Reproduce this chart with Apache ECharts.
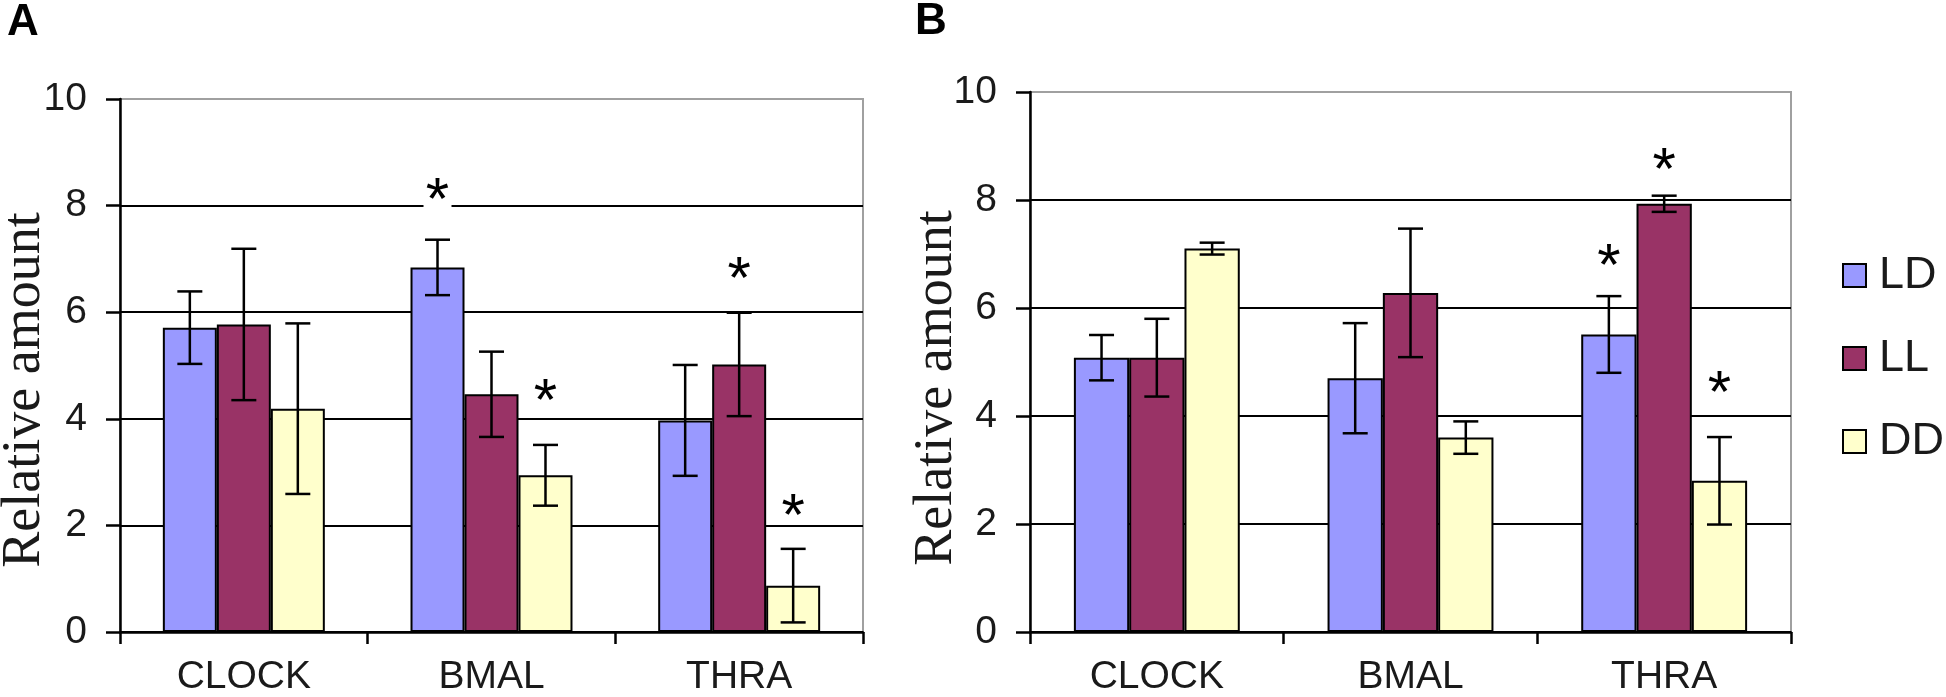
<!DOCTYPE html>
<html><head><meta charset="utf-8">
<script src="https://cdn.jsdelivr.net/npm/echarts@6/dist/echarts.min.js"></script>
<style>html,body{margin:0;padding:0;background:#fff}#c{width:1946px;height:697px}</style>
</head><body><div id="c"></div>
<script>
const categories = ['CLOCK', 'BMAL', 'THRA'];
const seriesNames = ['LD', 'LL', 'DD'];
const yTicks = [0, 2, 4, 6, 8, 10];

// Panel A
const aLD = [5.71, 6.84, 3.97];
const aLL = [5.77, 4.46, 5.02];
const aDD = [4.19, 2.94, 0.87];
const aErrLD = [0.68, 0.52, 1.04];
const aErrLL = [1.42, 0.80, 0.97];
const aErrDD = [1.60, 0.57, 0.69];
// [category index, series index, value]
const aStars = [[1, 0, 8.28], [1, 2, 4.51], [2, 1, 6.80], [2, 2, 2.36]];

// Panel B
const bLD = [5.08, 4.70, 5.51];
const bLL = [5.08, 6.28, 7.93];
const bDD = [7.10, 3.60, 2.80];
const bErrLD = [0.42, 1.02, 0.71];
const bErrLL = [0.72, 1.19, 0.15];
const bErrDD = [0.11, 0.30, 0.81];
const bStars = [[2, 0, 6.96], [2, 1, 8.74], [2, 2, 4.60]];

const colors = ['#9999FF', '#993366', '#FFFFCC'];
const BAR_FRAC = 0.218;
const SANS = '"Liberation Sans", Arial, sans-serif';
const SERIF = '"Liberation Serif", "Times New Roman", serif';
const TXT = '#1a1a1a';

function xAxisFor(gi) {
  return {
    type: 'category', gridIndex: gi, data: categories,
    axisLine: {show: true, lineStyle: {color: '#000', width: 2.5}},
    axisTick: {show: true, length: 12, lineStyle: {color: '#000', width: 2.5}},
    axisLabel: {margin: 26, fontSize: 39, fontFamily: SANS, color: TXT},
    splitLine: {show: false}
  };
}
function yAxisFor(gi) {
  return {
    type: 'value', gridIndex: gi,
    min: yTicks[0], max: yTicks[yTicks.length - 1], interval: yTicks[1] - yTicks[0],
    axisLine: {show: true, lineStyle: {color: '#000', width: 2.5}},
    axisTick: {show: true, length: 14, lineStyle: {color: '#000', width: 2.5}},
    axisLabel: {margin: 33, fontSize: 39, fontFamily: SANS, color: TXT},
    splitLine: {show: true, showMaxLine: false, lineStyle: {color: '#000', width: 2}}
  };
}
function barSeries(gi, name, vals, color) {
  return {
    type: 'bar', name: name, xAxisIndex: gi, yAxisIndex: gi, data: vals,
    barWidth: (BAR_FRAC * 100) + '%', barGap: '0%',
    itemStyle: {color: color, borderColor: '#000', borderWidth: 2},
    emphasis: {disabled: true}, z: 2
  };
}
function errSeries(gi, means, errs) {
  const data = [];
  means.forEach((m, s) => m.forEach((v, c) => data.push([c, s, v, errs[s][c]])));
  return {
    type: 'custom', xAxisIndex: gi, yAxisIndex: gi, data: data, z: 5,
    encode: {x: 0, y: 2}, silent: true,
    renderItem: function (params, api) {
      const c = api.value(0), s = api.value(1), m = api.value(2), e = api.value(3);
      const band = api.size([1, 0])[0];
      const bw = band * BAR_FRAC;
      const x = api.coord([c, m])[0] + (s - 1) * bw;
      const yt = api.coord([c, m + e])[1];
      const yb = api.coord([c, m - e])[1];
      const hw = 12.5;
      const st = {stroke: '#000', lineWidth: 2.5};
      return {type: 'group', children: [
        {type: 'line', shape: {x1: x, y1: yt, x2: x, y2: yb}, style: st},
        {type: 'line', shape: {x1: x - hw, y1: yt, x2: x + hw, y2: yt}, style: st},
        {type: 'line', shape: {x1: x - hw, y1: yb, x2: x + hw, y2: yb}, style: st}
      ]};
    }
  };
}
function starSeries(gi, stars) {
  return {
    type: 'custom', xAxisIndex: gi, yAxisIndex: gi, data: stars, z: 6,
    encode: {x: 0, y: 2}, silent: true,
    renderItem: function (params, api) {
      const c = api.value(0), s = api.value(1), v = api.value(2);
      const band = api.size([1, 0])[0];
      const bw = band * BAR_FRAC;
      const p = api.coord([c, v]);
      const x = p[0] + (s - 1) * bw;
      const y = p[1];
      return {type: 'group', children: [
        {type: 'rect', shape: {x: x - 14, y: y - 10, width: 28, height: 27}, style: {fill: '#fff'}},
        {type: 'text', x: x, y: y + 12, style: {text: '*', font: '60px ' + SANS, fill: '#000', align: 'center', verticalAlign: 'middle'}}
      ]};
    }
  };
}

const option = {
  backgroundColor: '#fff',
  animation: false,
  grid: [
    {left: 120, top: 99, width: 743, height: 534, show: true, borderColor: '#a0a0a0', borderWidth: 2, backgroundColor: 'transparent'},
    {left: 1030, top: 92, width: 761, height: 541, show: true, borderColor: '#a0a0a0', borderWidth: 2, backgroundColor: 'transparent'}
  ],
  xAxis: [xAxisFor(0), xAxisFor(1)],
  yAxis: [yAxisFor(0), yAxisFor(1)],
  legend: {
    orient: 'vertical', left: 1837, top: 248, itemWidth: 23, itemHeight: 23, itemGap: 38,
    icon: 'rect', data: seriesNames, selectedMode: false,
    itemStyle: {borderColor: '#000', borderWidth: 2},
    textStyle: {fontSize: 45, fontFamily: SANS, color: TXT, padding: [0, 0, 0, 8], lineHeight: 45}
  },
  graphic: [
    {type: 'text', x: 7, y: 23, style: {text: 'A', font: 'bold 44px ' + SANS, fill: '#000', align: 'left', verticalAlign: 'middle'}},
    {type: 'text', x: 915, y: 22, style: {text: 'B', font: 'bold 44px ' + SANS, fill: '#000', align: 'left', verticalAlign: 'middle'}},
    {type: 'text', x: 25, y: 390, rotation: Math.PI / 2, style: {text: 'Relative amount', font: '54px ' + SERIF, fill: TXT, align: 'center', verticalAlign: 'middle'}},
    {type: 'text', x: 937, y: 388, rotation: Math.PI / 2, style: {text: 'Relative amount', font: '54px ' + SERIF, fill: TXT, align: 'center', verticalAlign: 'middle'}}
  ],
  series: [
    barSeries(0, seriesNames[0], aLD, colors[0]),
    barSeries(0, seriesNames[1], aLL, colors[1]),
    barSeries(0, seriesNames[2], aDD, colors[2]),
    errSeries(0, [aLD, aLL, aDD], [aErrLD, aErrLL, aErrDD]),
    starSeries(0, aStars),
    barSeries(1, seriesNames[0], bLD, colors[0]),
    barSeries(1, seriesNames[1], bLL, colors[1]),
    barSeries(1, seriesNames[2], bDD, colors[2]),
    errSeries(1, [bLD, bLL, bDD], [bErrLD, bErrLL, bErrDD]),
    starSeries(1, bStars)
  ]
};
const chart = echarts.init(document.getElementById('c'));
chart.setOption(option);
</script>
</body></html>
